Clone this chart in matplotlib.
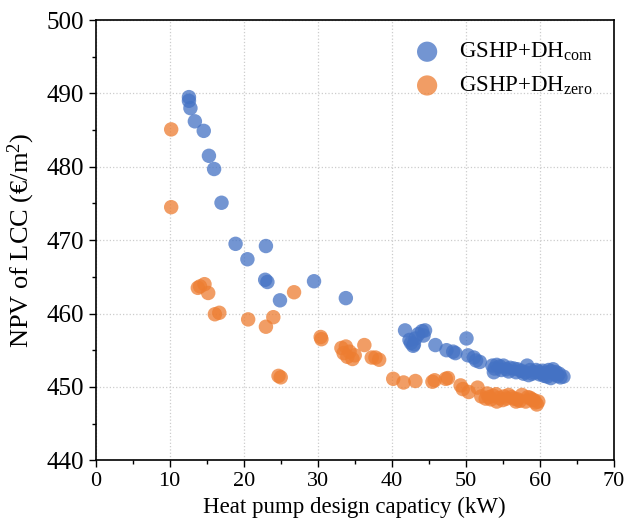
import matplotlib
matplotlib.use("Agg")
import matplotlib.pyplot as plt
from matplotlib.ticker import MultipleLocator

plt.rcParams["font.family"] = "Liberation Serif"
plt.rcParams["mathtext.fontset"] = "custom"
plt.rcParams["mathtext.rm"] = "Liberation Serif"
plt.rcParams["mathtext.it"] = "Liberation Serif:italic"

# GSHP+DH_com
com_capacity = [12.6, 12.6, 12.8, 13.4, 14.6, 15.3, 16.0, 17.0, 18.9, 20.5, 23.0, 22.9, 23.2, 24.9,
                29.5, 33.8, 41.8, 42.6, 42.9, 43.2, 43.6, 44.1, 44.5, 44.3, 42.4, 43.0, 45.9, 47.4,
                48.3, 48.6, 50.1, 50.3, 51.1, 51.4, 51.9, 53.9, 53.6, 54.2, 54.6, 55.1, 55.5, 56.0,
                56.5, 57.0, 57.5, 58.0, 58.3, 58.7, 59.2, 59.8, 60.0, 60.3, 60.8, 61.0, 61.2, 61.5,
                61.6, 62.0, 62.2, 62.4, 62.8, 63.2, 53.8, 54.8, 57.8, 60.6, 55.8, 56.8, 59.0, 59.5,
                61.8, 62.6, 60.4, 58.5]
com_npv = [489.5, 489.0, 488.0, 486.2, 484.9, 481.5, 479.7, 475.1, 469.5, 467.4, 469.2, 464.6, 464.3, 461.8,
           464.4, 462.1, 457.7, 456.0, 455.6, 456.6, 457.2, 457.6, 457.7, 457.0, 456.4, 455.8, 455.7, 455.0,
           454.8, 454.6, 456.6, 454.3, 454.0, 453.6, 453.4, 452.5, 452.9, 453.0, 452.8, 452.9, 452.4, 452.6,
           452.5, 452.4, 452.2, 452.0, 452.9, 452.3, 452.0, 452.1, 451.7, 451.8, 451.9, 451.4, 452.3, 451.2,
           452.1, 451.7, 452.0, 451.5, 451.3, 451.4, 452.0, 452.3, 451.8, 451.5, 452.1, 452.0, 451.8, 452.3,
           452.4, 451.8, 452.2, 451.6]

# GSHP+DH_zero
zero_capacity = [10.2, 10.2, 13.8, 14.1, 14.7, 15.2, 16.1, 16.7, 20.6, 23.0, 24.0, 24.7, 25.0, 26.8,
                 30.4, 30.5, 33.2, 33.5, 33.8, 34.0, 34.3, 34.7, 35.0, 36.3, 37.3, 37.8, 38.3, 40.2,
                 41.6, 43.2, 45.5, 45.8, 47.3, 47.6, 49.3, 49.6, 50.4, 51.6, 52.1, 52.7, 52.9, 53.4,
                 53.7, 54.1, 54.5, 55.0, 55.5, 55.8, 56.2, 56.8, 57.0, 57.6, 58.1, 58.4, 58.7, 59.2,
                 59.6, 59.8, 54.2, 56.5, 55.2, 57.3, 58.9, 53.1, 59.4]
zero_npv = [485.1, 474.5, 463.5, 463.7, 464.0, 462.8, 459.9, 460.1, 459.2, 458.2, 459.5, 451.5, 451.3, 462.9,
            456.8, 456.5, 455.3, 454.6, 455.5, 454.1, 454.8, 453.8, 454.3, 455.7, 454.0, 454.0, 453.7, 451.1,
            450.6, 450.8, 450.7, 450.9, 451.1, 451.2, 450.2, 449.7, 449.3, 449.9, 448.7, 448.4, 449.1, 448.3,
            448.8, 449.0, 448.5, 448.2, 448.4, 448.9, 448.6, 448.0, 448.3, 448.9, 448.0, 448.6, 448.5, 448.2,
            447.6, 448.0, 448.0, 448.4, 448.7, 448.1, 448.3, 448.6, 447.9]

fig = plt.figure(figsize=(6.38, 5.29), dpi=100)
ax = fig.add_axes([0.150, 0.130, 0.812, 0.832])

ax.scatter(com_capacity, com_npv, s=108, color="#4472C4", alpha=0.75, edgecolors="none",
           label="GSHP+DH$_{\\mathrm{com}}$", zorder=3)
ax.scatter(zero_capacity, zero_npv, s=108, color="#ED7D31", alpha=0.75, edgecolors="none",
           label="GSHP+DH$_{\\mathrm{zero}}$", zorder=3)

ax.set_xlim(0, 70)
ax.set_ylim(440, 500)
ax.xaxis.set_major_locator(MultipleLocator(10))
ax.xaxis.set_minor_locator(MultipleLocator(5))
ax.yaxis.set_major_locator(MultipleLocator(10))
ax.yaxis.set_minor_locator(MultipleLocator(5))
ax.tick_params(which="major", direction="out", length=5, width=1)
ax.tick_params(which="minor", direction="out", length=3, width=1)
ax.tick_params(axis="x", labelsize=16)
ax.tick_params(axis="y", labelsize=18)
ax.grid(True, which="major", color="#cccccc", linestyle=":", linewidth=0.9, zorder=0)
for sp in ax.spines.values():
    sp.set_linewidth(1.2)

ax.set_xlabel("Heat pump design capaticy (kW)", fontsize=16.5)
ax.set_ylabel("NPV of LCC (€/m$^2$)", fontsize=19, labelpad=7)

ax.legend(loc="upper right", frameon=False, fontsize=16.5, markerscale=1.4,
          handletextpad=0.4, borderaxespad=0.5, labelspacing=0.5)

fig.savefig("out.png", dpi=100)
